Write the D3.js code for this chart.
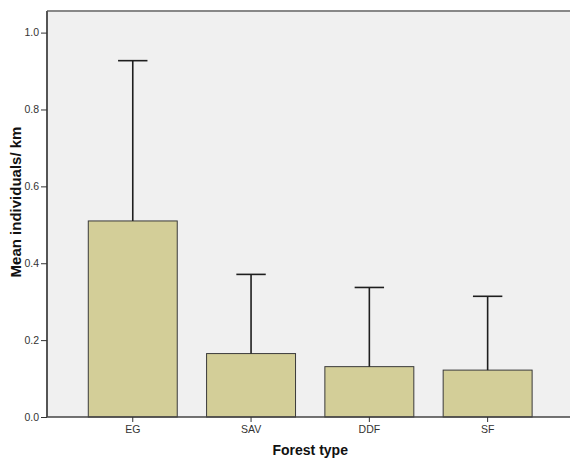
<!DOCTYPE html>
<html><head><meta charset="utf-8">
<script src="https://cdn.jsdelivr.net/npm/d3@7"></script>
<style>body{margin:0;background:#fff;} svg{display:block;}</style>
</head><body>
<script>
const categories = ["EG", "SAV", "DDF", "SF"];
const means = [0.510, 0.165, 0.131, 0.122];
const upper = [0.927, 0.371, 0.337, 0.314];
const yTicks = [0.0, 0.2, 0.4, 0.6, 0.8, 1.0];

const W = 570, H = 466;
const pLeft = 47, pRight = 573.4, pTop = 11, pBottom = 417;
const svg = d3.select("body").append("svg").attr("width", W).attr("height", H);

const x = d3.scaleBand().domain(categories).range([pLeft, pRight]).paddingInner(0.248).paddingOuter(0.349);
const y = d3.scaleLinear().domain([0, 1.0]).range([pBottom, pBottom - 384.4]);

svg.append("rect").attr("x", pLeft).attr("y", pTop).attr("width", pRight - pLeft).attr("height", pBottom - pTop)
  .attr("fill", "#f0f0f0");
svg.append("line").attr("x1", pLeft).attr("x2", pRight).attr("y1", pTop).attr("y2", pTop)
  .attr("stroke", "#888").attr("stroke-width", 2);

const data = categories.map((c, i) => ({c, m: means[i], u: upper[i]}));

svg.selectAll("rect.bar").data(data).enter().append("rect").attr("class", "bar")
  .attr("x", d => x(d.c)).attr("width", x.bandwidth())
  .attr("y", d => y(d.m)).attr("height", d => y(0) - y(d.m))
  .attr("fill", "#d3ce98").attr("stroke", "#3a3a3a").attr("stroke-width", 1);

const cap = 14.7;
const eb = svg.append("g").attr("stroke", "#1e1e1e").attr("stroke-width", 1.6);
eb.selectAll("line.v").data(data).enter().append("line")
  .attr("x1", d => x(d.c) + x.bandwidth()/2).attr("x2", d => x(d.c) + x.bandwidth()/2)
  .attr("y1", d => y(d.m)).attr("y2", d => y(d.u));
eb.selectAll("line.h").data(data).enter().append("line")
  .attr("x1", d => x(d.c) + x.bandwidth()/2 - cap).attr("x2", d => x(d.c) + x.bandwidth()/2 + cap)
  .attr("y1", d => y(d.u)).attr("y2", d => y(d.u));

const yAxis = svg.append("g").attr("transform", `translate(${pLeft},0)`)
  .call(d3.axisLeft(y).tickValues(yTicks).tickFormat(d3.format(".1f")).tickSize(6).tickPadding(2));
yAxis.select(".domain").attr("d", `M0,${pTop}V${pBottom}`).attr("stroke", "#555").attr("stroke-width", 2);
yAxis.selectAll(".tick line").attr("stroke", "#333");
yAxis.selectAll("text").attr("fill", "#333").style("font-family", "Liberation Sans, Arial, sans-serif").style("font-size", "10.5px");

const xAxis = svg.append("g").attr("transform", `translate(0,${pBottom})`)
  .call(d3.axisBottom(x).tickSize(5).tickPadding(4));
xAxis.select(".domain").attr("d", `M${pLeft},0H${pRight}`).attr("stroke", "#444").attr("stroke-width", 1.5);
xAxis.selectAll(".tick line").attr("stroke", "#333");
xAxis.selectAll("text").attr("fill", "#333").style("font-family", "Liberation Sans, Arial, sans-serif").style("font-size", "10.5px");

svg.append("text").attr("x", (pLeft + pRight)/2).attr("y", 455).attr("text-anchor", "middle")
  .style("font-family", "Liberation Sans, Arial, sans-serif").style("font-size", "14px").style("font-weight", "bold")
  .attr("fill", "#111").text("Forest type");
svg.append("text").attr("transform", `translate(20.5,202) rotate(-90)`).attr("text-anchor", "middle")
  .style("font-family", "Liberation Sans, Arial, sans-serif").style("font-size", "15px").style("font-weight", "bold")
  .attr("fill", "#111").text("Mean individuals/ km");
</script>
</body></html>
